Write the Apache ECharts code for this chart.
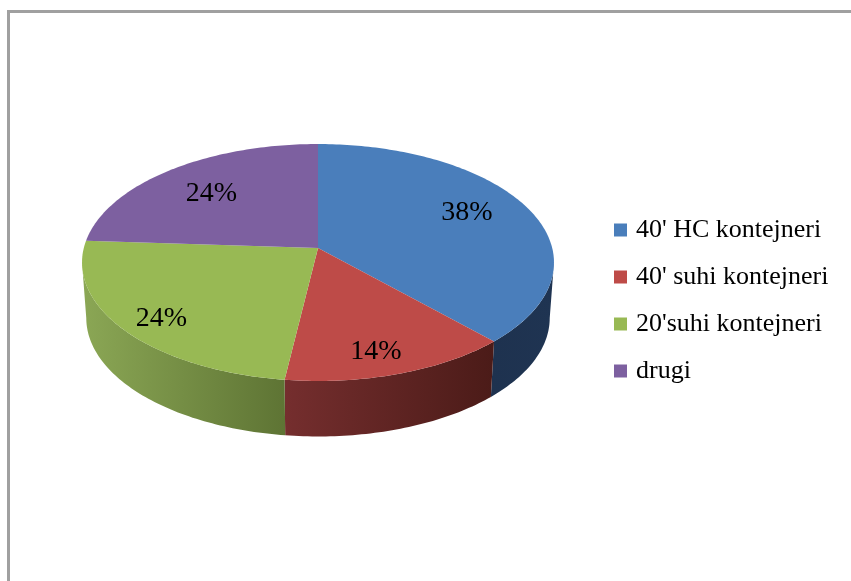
<!DOCTYPE html>
<html><head><meta charset="utf-8">
<style>html,body{margin:0;padding:0;background:#fff}#c{width:851px;height:581px}</style>
<script src="https://cdn.jsdelivr.net/npm/echarts@6/dist/echarts.min.js"></script>
</head><body><div id="c"></div>
<script>
const categories = ["40' HC kontejneri", "40' suhi kontejneri", "20'suhi kontejneri", "drugi"];
const shares = [38, 14, 24, 24];
const topColors = ['#4a7ebb', '#be4b48', '#98b954', '#7d60a0'];
const wallStops = [
  ['#1e324f', '#1f3452'],
  ['#752e2e', '#4b1b18'],
  ['#8ba755', '#5e7434'],
  ['#5a4474', '#46345c']
];
const labelShift = [[11.5, -8], [7, 26], [-33, 20], [-8, -2]];

// perspective disc layout
const apex = [318, 248], A = 234.2, B = 116.7, P = 0.1224, DEPTH = 55.5, BOTTOM_SCALE_X = 0.982;
const total = shares.reduce((a, b) => a + b, 0);
const startOf = i => shares.slice(0, i).reduce((a, b) => a + b, 0) / total;
function project(frac, r) {
  const t = frac * Math.PI * 2, u = r * Math.sin(t), v = -r * Math.cos(t), d = 1 - P * v;
  return [apex[0] + A * u / d, apex[1] + B * v / d];
}
function rim(f0, f1) {
  const n = Math.max(2, Math.ceil((f1 - f0) * 360)), pts = [];
  for (let k = 0; k <= n; k++) pts.push(project(f0 + (f1 - f0) * k / n, 1));
  return pts;
}
// the fractions of the rim where the disc is widest: walls are only visible between them
let fRight = 0, fLeft = 0;
for (let k = 0; k < 3600; k++) {
  const f = k / 3600, x = project(f, 1)[0];
  if (x > project(fRight, 1)[0]) fRight = f;
  if (x < project(fLeft, 1)[0]) fLeft = f;
}
function topItem(i) {
  return function (params, api) {
    const f0 = startOf(i), f1 = f0 + api.value(0) / total;
    const mid = (f0 + f1) / 2, c = project(mid, 0.65);
    return {
      type: 'group',
      children: [
        { type: 'polygon', shape: { points: [apex].concat(rim(f0, f1)) }, style: { fill: topColors[i] } },
        { type: 'text', z2: 5, style: {
            x: c[0] + labelShift[i][0], y: c[1] + labelShift[i][1],
            text: Math.round(api.value(0)) + '%', fill: '#000',
            font: '28px "Liberation Serif", serif', align: 'center', verticalAlign: 'middle' } }
      ]
    };
  };
}
function wallItem(params, api) {
  const i = params.dataIndex;
  const f0 = Math.max(startOf(i), fRight), f1 = Math.min(startOf(i) + api.value(0) / total, fLeft);
  if (f1 <= f0) return null;
  const top = rim(f0, f1);
  const bottom = top.map(p => [apex[0] + (p[0] - apex[0]) * BOTTOM_SCALE_X, p[1] + DEPTH]).reverse();
  return { type: 'polygon', shape: { points: top.concat(bottom) }, style: {
    fill: new echarts.graphic.LinearGradient(0, 0, 1, 0, [
      { offset: 0, color: wallStops[i][0] }, { offset: 1, color: wallStops[i][1] }]) } };
}
const series = [{
  type: 'custom', name: 'walls', coordinateSystem: 'none', z: 1, silent: true,
  data: shares.map(v => [v]), renderItem: wallItem
}].concat(categories.map((name, i) => ({
  type: 'custom', name, coordinateSystem: 'none', z: 2, silent: true,
  itemStyle: { color: topColors[i] },
  data: [[shares[i]]], renderItem: topItem(i)
})));

echarts.init(document.getElementById('c'), null, { renderer: 'canvas' }).setOption({
  animation: false,
  backgroundColor: '#fff',
  graphic: [{ type: 'polyline', silent: true, shape: { points: [[8.5, 581], [8.5, 11.5], [851, 11.5]] },
    style: { stroke: '#a0a0a0', lineWidth: 3, fill: null } }],
  legend: {
    data: categories, orient: 'vertical', left: 609, top: 212, itemWidth: 13, itemHeight: 13,
    itemGap: 21, icon: 'rect', selectedMode: false,
    textStyle: { fontFamily: '"Liberation Serif", serif', fontSize: 26, color: '#000', padding: [0, 0, 0, 4] }
  },
  series
});
</script></body></html>
